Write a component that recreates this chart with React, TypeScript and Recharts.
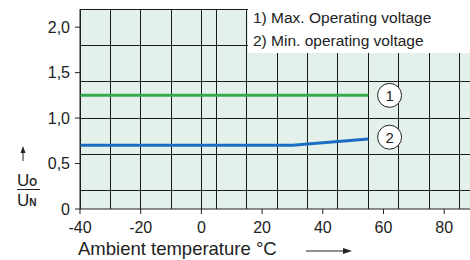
import { ComposedChart, Line, XAxis, YAxis, CartesianGrid, ReferenceDot } from "recharts"

const xTicks = [-40, -20, 0, 20, 40, 60, 80]
const yTicks = [0, 0.5, 1.0, 1.5, 2.0]
const xGrid = [-40, -35, -30, -25, -20, -15, -10, -5, 0, 5, 10, 15, 20, 25, 30, 35, 40, 45, 50, 55, 60, 65, 70, 75, 80, 85]
const yGrid = [0, 0.2, 0.4, 0.6, 0.8, 1.0, 1.2, 1.4, 1.6, 1.8, 2.0, 2.2]

const maxVoltage = [
  { t: -40, u: 1.25 },
  { t: 55, u: 1.25 },
]
const minVoltage = [
  { t: -40, u: 0.7 },
  { t: 30, u: 0.7 },
  { t: 55, u: 0.77 },
]
const legendLines = ["1) Max. Operating voltage", "2) Min. operating voltage"]

const font = "Liberation Sans, Arial, Helvetica, sans-serif"

const fmtY = (v: number) => (v === 0 ? "0" : v.toFixed(1).replace(".", ","))

function CircleLabel(props: any) {
  const { viewBox, value } = props
  const cx = viewBox.x + viewBox.width / 2
  const cy = viewBox.y + viewBox.height / 2
  return (
    <text x={cx} y={cy} dy="0.36em" textAnchor="middle" fontSize={15} style={{ fontFamily: font }} fill="#222">
      {value}
    </text>
  )
}

export default function App() {
  return (
    <div style={{ position: "absolute", left: 0, top: 0, width: 470, height: 260, overflow: "hidden", background: "#fff", fontFamily: font }}>
      <ComposedChart width={470} height={260} margin={{ top: 9, right: 0, bottom: 0, left: 0 }} style={{ fontFamily: font }}>
        <CartesianGrid
          horizontalValues={yGrid}
          verticalValues={xGrid}
          stroke="#1a1a1a"
          fill="#e4f1ea"
          fillOpacity={1}
          shapeRendering="crispEdges"
        />
        <XAxis
          dataKey="t"
          type="number"
          domain={[-40, 88.5]}
          ticks={xTicks}
          allowDataOverflow
          height={51}
          tickSize={5}
          tickMargin={8}
          stroke="#222"
          tick={{ fill: "#222", fontSize: 16, style: { fontFamily: font } }}
        />
        <YAxis
          type="number"
          domain={[0, 2.2]}
          ticks={yTicks}
          width={80}
          tickSize={5}
          tickMargin={5}
          tickFormatter={fmtY}
          stroke="#222"
          tick={{ fill: "#222", fontSize: 16, style: { fontFamily: font } }}
        />
        <Line data={maxVoltage} dataKey="u" type="linear" stroke="#34a84a" strokeWidth={3} dot={false} isAnimationActive={false} />
        <Line data={minVoltage} dataKey="u" type="linear" stroke="#1b6ec2" strokeWidth={3} dot={false} isAnimationActive={false} />
        <ReferenceDot x={62} y={1.25} r={12} fill="#fff" stroke="#222" strokeWidth={1} label={<CircleLabel value="1" />} />
        <ReferenceDot x={62} y={0.79} r={12} fill="#fff" stroke="#222" strokeWidth={1} label={<CircleLabel value="2" />} />
      </ComposedChart>
      <svg width={470} height={260} style={{ position: "absolute", left: 0, top: 0, pointerEvents: "none", fontFamily: font }}>
        <rect x={248} y={0} width={222} height={53} fill="#fff" />
        {legendLines.map((s, i) => (
          <text key={s} x={253} y={23 + i * 23} fontSize={15.5} fill="#222">
            {s}
          </text>
        ))}
        <text x={78} y={255} fontSize={18.5} fill="#222">
          Ambient temperature °C
        </text>
        <line x1={306} y1={251} x2={345} y2={251} stroke="#222" strokeWidth={1} />
        <path d="M352 251 L343 248 L343 254 Z" fill="#222" />
        <line x1={23} y1={152} x2={23} y2={161} stroke="#222" strokeWidth={1} />
        <path d="M23 146 L20.5 153 L25.5 153 Z" fill="#222" />
        <text x={17} y={186} fontSize={17} fill="#222">
          U<tspan fontSize={10} fontWeight="bold">O</tspan>
        </text>
        <line x1={17} y1={189.5} x2={40} y2={189.5} stroke="#222" strokeWidth={1} />
        <text x={17} y={206} fontSize={17} fill="#222">
          U<tspan fontSize={10} fontWeight="bold">N</tspan>
        </text>
      </svg>
    </div>
  )
}
